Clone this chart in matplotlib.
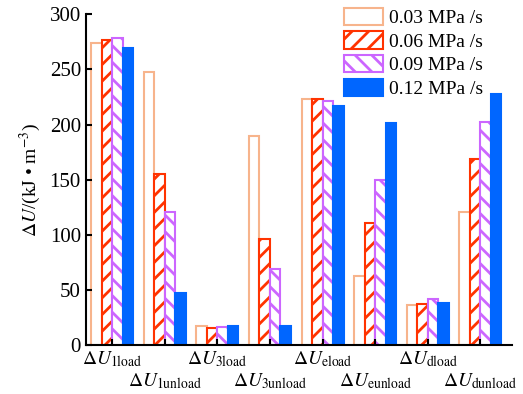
import matplotlib.pyplot as plt
import numpy as np

plt.rcParams['font.family'] = ['Liberation Serif', 'DejaVu Serif']
plt.rcParams['mathtext.fontset'] = 'stix'
plt.rcParams['hatch.linewidth'] = 2.0

labels = [r'$\Delta U_{\mathrm{1load}}$', r'$\Delta U_{\mathrm{1unload}}$',
          r'$\Delta U_{\mathrm{3load}}$', r'$\Delta U_{\mathrm{3unload}}$',
          r'$\Delta U_{\mathrm{eload}}$', r'$\Delta U_{\mathrm{eunload}}$',
          r'$\Delta U_{\mathrm{dload}}$', r'$\Delta U_{\mathrm{dunload}}$']
rates = ['0.03 MPa /s', '0.06 MPa /s', '0.09 MPa /s', '0.12 MPa /s']
v003 = [274, 248, 17, 190, 223, 63, 36, 121]
v006 = [277, 155, 15.5, 96, 223.5, 111, 37.5, 168.5]
v009 = [278, 121, 16, 69, 221, 150, 42, 202]
v012 = [269, 47, 17.5, 17.5, 217, 201, 38, 228]

series = [v003, v006, v009, v012]
edges = ['#F7B48C', '#FF3300', '#CC66FF', '#0066FF']
faces = ['white', 'white', 'white', '#0066FF']
hatches = [None, '//', '\\\\', None]

fig = plt.figure(figsize=(5.23, 3.94), dpi=100)
ax = fig.add_axes([0.164, 0.124, 0.815, 0.840])

x = np.arange(len(labels))
w = 0.2
for i, vals in enumerate(series):
    ax.bar(x + (i - 1.5) * w, vals, w, facecolor=faces[i], edgecolor=edges[i],
           hatch=hatches[i], linewidth=1.5, label=rates[i])

ax.set_xlim(-0.5, 7.6)
ax.set_ylim(0, 300)
ax.set_yticks([0, 50, 100, 150, 200, 250, 300])
ax.set_xticks(x)
ax.set_xticklabels(labels, fontsize=14)
for i, t in enumerate(ax.get_xticklabels()):
    if i % 2 == 1:
        t.set_y(-0.065)
ax.tick_params(axis='both', direction='in', length=4, width=1.5, labelsize=15)
ax.tick_params(axis='x', labelsize=14, pad=3)
for s in ['top', 'right']:
    ax.spines[s].set_visible(False)
for s in ['left', 'bottom']:
    ax.spines[s].set_linewidth(1.5)

ax.set_ylabel(r'$\mathit{\Delta U}$/(kJ • m$^{-3}$)', fontsize=14, labelpad=5)

ax.legend(loc='upper right', bbox_to_anchor=(0.96, 1.055), frameon=False, fontsize=14,
          handlelength=2.0, handleheight=1.0, labelspacing=0.22, handletextpad=0.3,
          borderaxespad=0.2)

plt.savefig('out.png', dpi=100)
plt.close()
